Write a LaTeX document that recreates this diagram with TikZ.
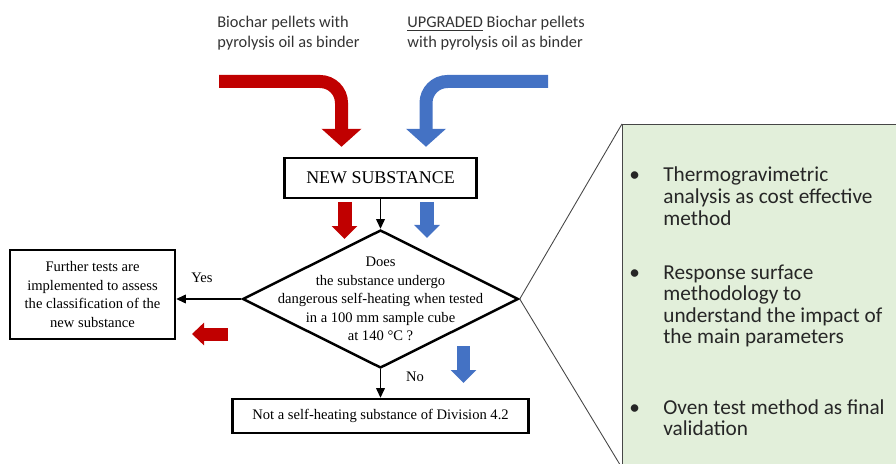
\documentclass[tikz,border=0pt]{standalone}
\usepackage{fontspec}
\setmainfont{Liberation Serif}
\newfontfamily\calibrifont{Carlito}
\usepackage{xcolor}
\definecolor{pelletred}{RGB}{192,0,0}
\definecolor{pelletblue}{RGB}{68,114,196}
\definecolor{notegreen}{RGB}{226,239,218}
\definecolor{notegray}{RGB}{70,70,70}
\usetikzlibrary{arrows.meta,positioning,shapes.geometric}
\tikzset{
  flowbox/.style={draw,line width=1.4pt,align=center,inner sep=0pt,font=\fontsize{8.3}{10.5}\selectfont},
  flowline/.style={line width=0.6pt,-{Triangle[width=5pt,length=5.5pt]}},
  bigarrow/.style={line width=0.26cm,rounded corners=0.43cm,-{Triangle[width=0.78cm,length=0.36cm]}},
  blockarrow/.style={line width=0.28cm,-{Triangle[width=0.5cm,length=0.26cm]}},
  intro/.style={anchor=west,align=left,inner sep=0pt,text=black!80,font=\calibrifont\fontsize{9.3}{11.4}\selectfont},
  bullettxt/.style={anchor=base west,inner sep=0pt,text=black!85,font=\calibrifont\fontsize{12.1}{12.3}\selectfont}
}

\begin{document}
\begin{tikzpicture}
  \useasboundingbox (0,0) rectangle (17.92,9.26);
  \clip (0,0) rectangle (17.92,9.26);

  % the two pellet types
  \node[intro] (rawtxt) at (4.34,8.60) {Biochar pellets with\\pyrolysis oil as binder};
  \node[intro] (uptxt) at (8.14,8.60) {\underline{UPGRADED} Biochar pellets\\with pyrolysis oil as binder};
  \coordinate (redin) at (4.38,7.63);
  \coordinate (bluein) at (10.96,7.63);

  % flowchart
  \node[flowbox,minimum width=3.84cm,minimum height=0.8cm,font=\fontsize{10.2}{12}\selectfont]
        (newsub) at (7.61,5.70) {NEW SUBSTANCE};
  \node[draw,diamond,line width=1.4pt,minimum width=5.52cm,minimum height=2.76cm,inner sep=0pt]
        (decide) at (7.61,3.28) {};
  \node[align=center,inner sep=0pt,font=\fontsize{8.3}{10.5}\selectfont]
        (decidetxt) at (decide.center)
        {Does\\the substance undergo\\dangerous self-heating when tested\\in a 100 mm sample cube\\at 140 °C ?};
  \node[flowbox,minimum width=3.3cm,minimum height=1.78cm]
        (further) at (1.85,3.37)
        {Further tests are\\implemented to assess\\the classification of the\\new substance};
  \node[flowbox,minimum width=5.92cm,minimum height=0.68cm]
        (notsh) at (7.61,0.94) {Not a self-heating substance of Division 4.2};
  \node[font=\fontsize{8.3}{10.5}\selectfont] (yes) at (4.04,3.70) {Yes};
  \node[font=\fontsize{8.3}{10.5}\selectfont] (no) at (8.30,1.72) {No};

  \draw[bigarrow,pelletred] (redin) -| ([xshift=-0.78cm,yshift=0.2cm]newsub.north);
  \draw[bigarrow,pelletblue] (bluein) -| ([xshift=0.91cm,yshift=0.2cm]newsub.north);

  \draw[flowline] (newsub) -- (decide);
  \draw[flowline] (decide.west) -- (decide.west -| further.east);
  \draw[flowline] (decide) -- (notsh);

  % block arrows
  \draw[blockarrow,pelletred] (6.89,5.22) -- (6.89,4.48);
  \draw[blockarrow,pelletblue] (8.54,5.22) -- (8.54,4.50);
  \draw[blockarrow,pelletred,line width=0.26cm,-{Triangle[width=0.44cm,length=0.24cm]}] (4.56,2.58) -- (3.84,2.58);
  \draw[blockarrow,pelletblue,line width=0.26cm] (9.27,2.34) -- (9.27,1.60);

  % methods box
  \node[draw=notegray,fill=notegreen,line width=0.6pt,anchor=south west,
        minimum width=6cm,minimum height=6.86cm,inner sep=0pt]
        (tools) at (12.44,-0.1) {};
  \draw[notegray,line width=0.5pt] (decide.east) -- (tools.north west);
  \draw[notegray,line width=0.5pt] (decide.east) -- (tools.south west);

  \node[bullettxt] (pt1) at (12.58,5.62)
        {\begin{tabular}[t]{@{}p{0.68cm}@{}l@{}}\textbullet & Thermogravimetric\\ & analysis as cost effective\\ & method\end{tabular}};
  \node[bullettxt] (pt2) at (12.58,3.68)
        {\begin{tabular}[t]{@{}p{0.68cm}@{}l@{}}\textbullet & Response surface\\ & methodology to\\ & understand the impact of\\ & the main parameters\end{tabular}};
  \node[bullettxt] (pt3) at (12.58,0.98)
        {\begin{tabular}[t]{@{}p{0.68cm}@{}l@{}}\textbullet & Oven test method as final\\ & validation\end{tabular}};
\end{tikzpicture}
\end{document}
